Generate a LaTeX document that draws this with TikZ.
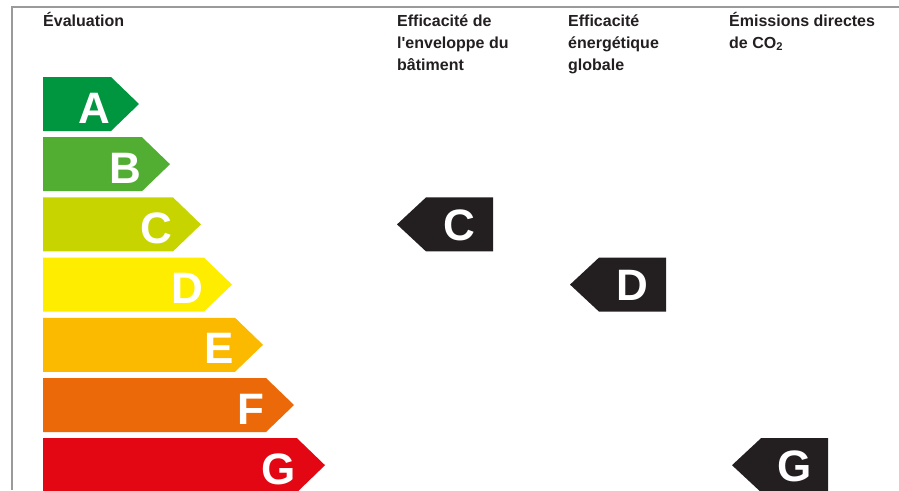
\documentclass[tikz,border=0pt]{standalone}
\usepackage{fontspec}
\setmainfont{Liberation Sans}
\definecolor{clA}{HTML}{009640}
\definecolor{clB}{HTML}{52AE32}
\definecolor{clC}{HTML}{C8D400}
\definecolor{clD}{HTML}{FFED00}
\definecolor{clE}{HTML}{FBBA00}
\definecolor{clF}{HTML}{EB6909}
\definecolor{clG}{HTML}{E30613}
\definecolor{noir}{HTML}{231F20}
\definecolor{cadre}{HTML}{9A9A9A}
\begin{document}
\begin{tikzpicture}[x=1pt, y=-1pt,
  lettre/.style={font=\fontsize{44}{44}\selectfont\bfseries, inner sep=0pt},
  entete/.style={font=\fontsize{16}{22}\selectfont\bfseries, text=noir, align=left, inner sep=0pt, anchor=base west}]
\clip (0,0) rectangle (899,490);
\draw[cadre, line width=1.2pt] (12,490) -- (12,7) -- (899,7);

% en-tetes (ancre sur la derniere ligne)
\node[entete] (eval) at (43,26) {Évaluation};
\node[entete] (env) at (397,70) {Efficacité de\\l\textquotesingle enveloppe du\\bâtiment};
\node[entete] (glob) at (568,70) {Efficacité\\énergétique\\globale};
\node[entete] (co2) at (729,48) {Émissions directes\\de CO\textsubscript{2}};

% barres de l'echelle
\foreach \l/\c [count=\i from 0] in {A/clA, B/clB, C/clC, D/clD, E/clE, F/clF, G/clG} {
  \pgfmathsetmacro{\t}{77+60.2*\i}
  \pgfmathsetmacro{\r}{111+31*\i}
  \fill[\c] (43,\t) -- (\r,\t) -- ({\r+28},{\t+27}) -- (\r,{\t+54}) -- (43,{\t+54}) -- cycle;
  \node[lettre, text=white, anchor=base east] (bar\l) at ({\r-1},{\t+46}) {\l};
}

% classes obtenues
\foreach \l/\i/\x [count=\k] in {C/2/397, D/3/570, G/6/732} {
  \pgfmathsetmacro{\t}{77+60.2*\i}
  \fill[noir] (\x,{\t+27}) -- ({\x+29},\t) -- ({\x+96},\t) -- ({\x+96},{\t+54}) -- ({\x+29},{\t+54}) -- cycle;
  \node[lettre, text=white, anchor=base] (res\l) at ({\x+62.5},{\t+43}) {\l};
}
\end{tikzpicture}
\end{document}
